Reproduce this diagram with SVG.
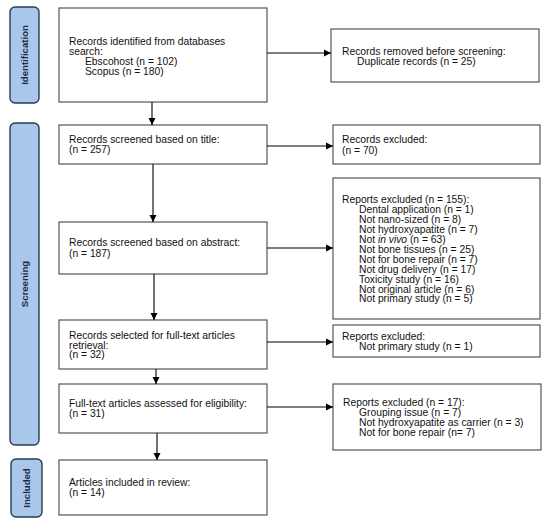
<svg xmlns="http://www.w3.org/2000/svg" width="550" height="525" viewBox="0 0 550 525">
<defs>
<marker id="ah" markerWidth="8" markerHeight="8" refX="7" refY="4" orient="auto" markerUnits="userSpaceOnUse">
<path d="M0,0.5 L7,4 L0,7.5 Z" fill="#000"/>
</marker>
<style>
.box{fill:#fff;stroke:#555;stroke-width:1.2}
.lab{fill:#a9c7ea;stroke:#2b3a52;stroke-width:1.4}
.t{font-family:"Liberation Sans",Arial,sans-serif;font-size:10.3px;fill:#111}
.lt{font-family:"Liberation Sans",Arial,sans-serif;font-size:9.6px;font-weight:bold;fill:#1c2a44;text-anchor:middle}
.c{stroke:#000;stroke-width:1.1;fill:none;marker-end:url(#ah)}
</style>
</defs>
<rect width="550" height="525" fill="#fff"/>
<g id="label-identification"><rect class="lab" x="10" y="7" width="29" height="96" rx="5"/><text class="lt" transform="translate(28,55) rotate(-90)">Identification</text></g>
<g id="label-screening"><rect class="lab" x="10" y="123" width="29" height="322" rx="5"/><text class="lt" transform="translate(27.5,284) rotate(-90)">Screening</text></g>
<g id="label-included"><rect class="lab" x="11" y="459" width="31" height="58" rx="5"/><text class="lt" transform="translate(29.5,488) rotate(-90)">Included</text></g>

<g id="n1"><rect class="box" x="59" y="8" width="208" height="94"/>
<text class="t" x="69" y="45">Records identified from databases</text>
<text class="t" x="69" y="55">search:</text>
<text class="t" x="85" y="64.5">Ebscohost (n = 102)</text>
<text class="t" x="85" y="74.5">Scopus (n = 180)</text></g>
<g id="n2"><rect class="box" x="331" y="29" width="208" height="53"/>
<text class="t" x="342" y="55">Records removed before screening:</text>
<text class="t" x="357" y="65">Duplicate records (n = 25)</text></g>
<g id="n3"><rect class="box" x="59" y="125" width="208" height="39"/>
<text class="t" x="69" y="143">Records screened based on title:</text>
<text class="t" x="69" y="153">(n = 257)</text></g>
<g id="n4"><rect class="box" x="333" y="125" width="207" height="39"/>
<text class="t" x="342" y="143">Records excluded:</text>
<text class="t" x="342" y="154">(n = 70)</text></g>
<g id="n5"><rect class="box" x="59" y="222" width="208" height="52"/>
<text class="t" x="69" y="246">Records screened based on abstract:</text>
<text class="t" x="69" y="257">(n = 187)</text></g>
<g id="n6"><rect class="box" x="333" y="178" width="207" height="141"/>
<text class="t" x="342" y="203">Reports excluded (n = 155):</text>
<text class="t" x="359" y="213">Dental application (n = 1)</text>
<text class="t" x="359" y="223">Not nano-sized (n = 8)</text>
<text class="t" x="359" y="233">Not hydroxyapatite (n = 7)</text>
<text class="t" x="359" y="243">Not <tspan font-style="italic">in vivo</tspan> (n = 63)</text>
<text class="t" x="359" y="253">Not bone tissues (n = 25)</text>
<text class="t" x="359" y="263">Not for bone repair (n = 7)</text>
<text class="t" x="359" y="273">Not drug delivery (n = 17)</text>
<text class="t" x="359" y="282.5">Toxicity study (n = 16)</text>
<text class="t" x="359" y="292.5">Not original article (n = 6)</text>
<text class="t" x="359" y="302">Not primary study (n = 5)</text></g>
<g id="n7"><rect class="box" x="59" y="320" width="208" height="49"/>
<text class="t" x="69" y="339">Records selected for full-text articles</text>
<text class="t" x="69" y="348.5">retrieval:</text>
<text class="t" x="69" y="358">(n = 32)</text></g>
<g id="n8"><rect class="box" x="333" y="325" width="207" height="32"/>
<text class="t" x="342" y="340">Reports excluded:</text>
<text class="t" x="359" y="350">Not primary study (n = 1)</text></g>
<g id="n9"><rect class="box" x="59" y="384" width="208" height="49"/>
<text class="t" x="69" y="407">Full-text articles assessed for eligibility:</text>
<text class="t" x="69" y="417">(n = 31)</text></g>
<g id="n10"><rect class="box" x="333" y="384" width="208" height="66"/>
<text class="t" x="343" y="406">Reports excluded (n = 17):</text>
<text class="t" x="359" y="416">Grouping issue (n = 7)</text>
<text class="t" x="359" y="426">Not hydroxyapatite as carrier (n = 3)</text>
<text class="t" x="359" y="436">Not for bone repair (n= 7)</text></g>
<g id="n11"><rect class="box" x="59" y="460" width="208" height="55"/>
<text class="t" x="69" y="486">Articles included in review:</text>
<text class="t" x="69" y="496">(n = 14)</text></g>

<g id="connectors">
<line class="c" x1="152" y1="102" x2="152" y2="125"/>
<line class="c" x1="153" y1="164" x2="153" y2="222"/>
<line class="c" x1="154" y1="274" x2="154" y2="320"/>
<line class="c" x1="156" y1="369" x2="156" y2="384"/>
<line class="c" x1="157" y1="433" x2="157" y2="460"/>
<line class="c" x1="267" y1="53" x2="331" y2="53"/>
<line class="c" x1="267" y1="146" x2="333" y2="146"/>
<line class="c" x1="267" y1="248" x2="333" y2="248"/>
<line class="c" x1="267" y1="342" x2="333" y2="342"/>
<line class="c" x1="267" y1="407" x2="333" y2="407"/>
</g>
</svg>
